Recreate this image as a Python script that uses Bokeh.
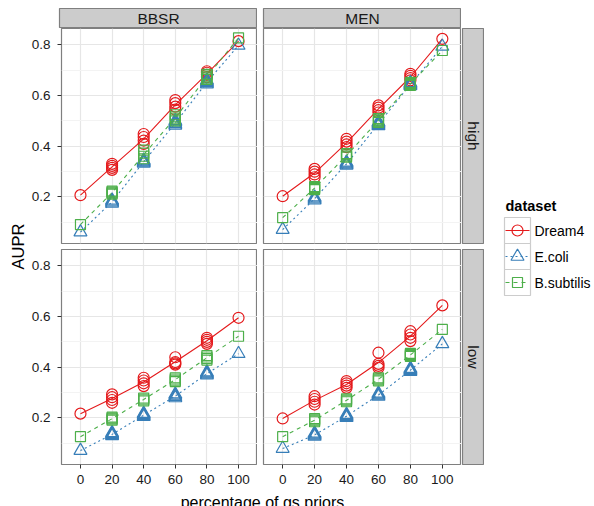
import math
from bokeh.plotting import figure
from bokeh.layouts import row, column
from bokeh.models import Range1d, FixedTicker
from bokeh.core.properties import value
from bokeh.embed import file_html
from bokeh.resources import INLINE

# ---------------- data ----------------
priors = [0, 20, 40, 60, 80, 100]
x_tick_labels = ["0", "20", "40", "60", "80", "100"]
y_ticks = [0.2, 0.4, 0.6, 0.8]
y_tick_labels = ["0.2", "0.4", "0.6", "0.8"]
y_minor = [0.1, 0.3, 0.5, 0.7]
datasets = ["Dream4", "E.coli", "B.subtilis"]
methods = ["BBSR", "MEN"]
levels = ["high", "low"]

# replicate AUPR values for each percentage of gs priors
bbsr_high_dream4 = [[0.206], [0.306, 0.314, 0.322, 0.330], [0.409, 0.422, 0.436, 0.448],
                    [0.544, 0.556, 0.570, 0.582], [0.673, 0.682, 0.690, 0.696], [0.815]]
bbsr_high_ecoli = [[0.060], [0.174, 0.178, 0.182, 0.186], [0.332, 0.336, 0.340, 0.344],
                   [0.482, 0.488, 0.494, 0.500], [0.645, 0.650, 0.655, 0.660], [0.798]]
bbsr_high_bsub = [[0.090], [0.210, 0.214, 0.218, 0.222], [0.350, 0.360, 0.372, 0.384],
                  [0.500, 0.508, 0.516, 0.524], [0.664, 0.670, 0.677, 0.684], [0.828]]

men_high_dream4 = [[0.202], [0.277, 0.288, 0.299, 0.310], [0.396, 0.407, 0.418, 0.429],
                   [0.533, 0.542, 0.552, 0.561], [0.660, 0.669, 0.678, 0.686], [0.824]]
men_high_ecoli = [[0.070], [0.186, 0.190, 0.194, 0.198], [0.324, 0.328, 0.332, 0.336],
                  [0.480, 0.485, 0.490, 0.495], [0.638, 0.642, 0.646, 0.650], [0.794]]
men_high_bsub = [[0.117], [0.228, 0.232, 0.236, 0.240], [0.356, 0.360, 0.365, 0.370],
                 [0.494, 0.499, 0.504, 0.509], [0.640, 0.644, 0.648, 0.652], [0.778]]

bbsr_low_dream4 = [[0.216], [0.259, 0.270, 0.281, 0.292], [0.325, 0.336, 0.347, 0.358],
                   [0.410, 0.415, 0.420, 0.439], [0.492, 0.500, 0.508, 0.516], [0.595]]
bbsr_low_ecoli = [[0.070], [0.128, 0.132, 0.136, 0.140], [0.204, 0.208, 0.212, 0.216],
                  [0.278, 0.283, 0.288, 0.293], [0.368, 0.372, 0.376, 0.380], [0.453]]
bbsr_low_bsub = [[0.125], [0.190, 0.194, 0.198, 0.202], [0.266, 0.270, 0.274, 0.278],
                 [0.343, 0.348, 0.353, 0.358], [0.428, 0.434, 0.440, 0.446], [0.522]]

men_low_dream4 = [[0.197], [0.252, 0.263, 0.274, 0.285], [0.318, 0.327, 0.336, 0.345],
                  [0.397, 0.405, 0.413, 0.457], [0.503, 0.516, 0.529, 0.542], [0.644]]
men_low_ecoli = [[0.078], [0.126, 0.130, 0.134, 0.138], [0.200, 0.204, 0.208, 0.212],
                 [0.284, 0.288, 0.292, 0.296], [0.382, 0.386, 0.390, 0.394], [0.492]]
men_low_bsub = [[0.125], [0.184, 0.188, 0.192, 0.196], [0.263, 0.267, 0.271, 0.275],
                [0.346, 0.350, 0.354, 0.358], [0.442, 0.446, 0.450, 0.454], [0.549]]

panel_data = {
    ("BBSR", "high"): [bbsr_high_dream4, bbsr_high_ecoli, bbsr_high_bsub],
    ("MEN", "high"): [men_high_dream4, men_high_ecoli, men_high_bsub],
    ("BBSR", "low"): [bbsr_low_dream4, bbsr_low_ecoli, bbsr_low_bsub],
    ("MEN", "low"): [men_low_dream4, men_low_ecoli, men_low_bsub],
}

# ---------------- style ----------------
FONT = "Liberation Sans"
colors = ["#E41A1C", "#377EB8", "#4DAF4A"]
markers = ["circle", "triangle", "square"]
sizes = [11, 13, 10]
dashes = ["solid", "2 3", "4 4"]
BORDER = "#7F7F7F"
STRIP = "#CCCCCC"
TXT = "#1A1A1A"
TICK_FS = "13.5px"
STRIP_FS = "15.5px"
TITLE_FS = "16.5px"

XR = (-12, 112)
YR = (0.015, 0.865)

# layout geometry (pixels)
YT_W = 28          # width of the column holding the AUPR title
FRAME_W = 198
FRAME_H = 215
LEFT_AX = 31
GAP = 6
BOTTOM_AX = 26
TOP_PAD = 8
STRIP_H = 20
RSTRIP_W = 23
TITLE_H = 16


def base_fig(**kw):
    p = figure(output_backend="svg", toolbar_location=None, **kw)
    p.background_fill_color = "white"
    p.border_fill_color = "white"
    return p


def make_panel(method, level, show_y, show_x):
    w = FRAME_W + (LEFT_AX if show_y else GAP)
    h = FRAME_H + (BOTTOM_AX if show_x else GAP)
    p = base_fig(width=w, height=h, x_range=Range1d(*XR), y_range=Range1d(*YR),
                 x_axis_location="below" if show_x else None,
                 y_axis_location="left" if show_y else None,
                 min_border_left=LEFT_AX if show_y else GAP, min_border_right=0,
                 min_border_top=0, min_border_bottom=BOTTOM_AX if show_x else GAP)
    p.outline_line_color = BORDER
    p.outline_line_width = 1.2
    p.xgrid.ticker = FixedTicker(ticks=priors)
    p.ygrid.ticker = FixedTicker(ticks=y_ticks, minor_ticks=y_minor)
    p.xgrid.grid_line_color = "#E6E6E6"
    p.ygrid.grid_line_color = "#E6E6E6"
    p.xgrid.grid_line_width = 1.2
    p.ygrid.grid_line_width = 1.2
    p.ygrid.minor_grid_line_color = "#F3F3F3"
    p.ygrid.minor_grid_line_width = 1

    for ax in list(p.xaxis) + list(p.yaxis):
        ax.axis_line_color = None
        ax.major_tick_line_color = "#333333"
        ax.major_tick_in = 0
        ax.major_tick_out = 4
        ax.minor_tick_line_color = None
        ax.major_label_text_font = FONT
        ax.major_label_text_font_size = TICK_FS
        ax.major_label_text_color = TXT
    if show_x:
        p.xaxis.ticker = FixedTicker(ticks=priors)
        p.xaxis.major_label_overrides = dict(zip(priors, x_tick_labels))
        p.xaxis.major_label_standoff = 6
    if show_y:
        p.yaxis.ticker = FixedTicker(ticks=y_ticks)
        p.yaxis.major_label_overrides = dict(zip(y_ticks, y_tick_labels))
        p.yaxis.major_label_standoff = 7

    for i in range(len(datasets)):
        reps = panel_data[(method, level)][i]
        xs = [x for x, r in zip(priors, reps) for _ in r]
        ys = [v for r in reps for v in r]
        means = [sum(r) / len(r) for r in reps]
        p.line(priors, means, line_color=colors[i], line_width=1.1, line_dash=dashes[i])
        p.scatter(xs, ys, marker=markers[i], size=sizes[i], fill_color=None,
                  line_color=colors[i], line_width=1.2)
    return p


def make_strip(label, w, h, mbl, mbr, mbt, mbb, angle):
    s = base_fig(width=w, height=h, x_range=Range1d(0, 1), y_range=Range1d(0, 1),
                 x_axis_location=None, y_axis_location=None,
                 min_border_left=mbl, min_border_right=mbr, min_border_top=mbt,
                 min_border_bottom=mbb)
    s.grid.visible = False
    s.background_fill_color = STRIP
    s.outline_line_color = BORDER
    s.outline_line_width = 1.2
    s.text(x=[0.5], y=[0.5], text=[label], angle=angle, text_align="center",
           text_baseline="middle", text_font=value(FONT), text_font_size=STRIP_FS,
           text_color=TXT)
    return s


# panels
tl = make_panel("BBSR", "high", True, False)
tr = make_panel("MEN", "high", False, False)
bl = make_panel("BBSR", "low", True, True)
br = make_panel("MEN", "low", False, True)

# strips
s_bbsr = make_strip(methods[0], FRAME_W + LEFT_AX, TOP_PAD + STRIP_H, LEFT_AX, 0, TOP_PAD, 0, 0)
s_men = make_strip(methods[1], FRAME_W + GAP, TOP_PAD + STRIP_H, GAP, 0, TOP_PAD, 0, 0)
s_high = make_strip(levels[0], RSTRIP_W, FRAME_H + GAP, 1, 1, 0, GAP, -math.pi / 2)
s_low = make_strip(levels[1], RSTRIP_W, FRAME_H + BOTTOM_AX, 1, 1, 0, BOTTOM_AX, -math.pi / 2)

TOTAL_H = TOP_PAD + STRIP_H + FRAME_H + GAP + FRAME_H + BOTTOM_AX + TITLE_H
grid_w = 2 * FRAME_W + LEFT_AX + GAP
panel_x0 = YT_W + LEFT_AX
panel_cx = panel_x0 + FRAME_W + GAP / 2

# x title
xt_y0 = TOTAL_H - TITLE_H
xt = base_fig(width=grid_w, height=TITLE_H, x_range=Range1d(YT_W, YT_W + grid_w),
              y_range=Range1d(TOTAL_H, xt_y0), x_axis_location=None, y_axis_location=None,
              min_border_left=0, min_border_right=0, min_border_top=0, min_border_bottom=0)
xt.grid.visible = False
xt.outline_line_color = None
xt.text(x=[panel_cx + 2], y=[xt_y0 + 11.5], text=["percentage of gs priors"],
        text_align="center", text_baseline="alphabetic", text_font=value(FONT),
        text_font_size="16px", text_color="black")

# y title
yt = base_fig(width=YT_W, height=TOTAL_H, x_range=Range1d(0, YT_W), y_range=Range1d(TOTAL_H, 0),
              x_axis_location=None, y_axis_location=None,
              min_border_left=0, min_border_right=0, min_border_top=0, min_border_bottom=0)
yt.grid.visible = False
yt.outline_line_color = None
yt.text(x=[17], y=[TOP_PAD + STRIP_H + FRAME_H + GAP / 2], text=["AUPR"], angle=math.pi / 2,
        text_align="center", text_baseline="middle", text_font=value(FONT),
        text_font_size=TITLE_FS, text_color="black")

# legend
LEG_X0 = YT_W + grid_w + RSTRIP_W
LEG_W = 593 - LEG_X0
lg = base_fig(width=LEG_W, height=TOTAL_H, x_range=Range1d(LEG_X0, LEG_X0 + LEG_W),
              y_range=Range1d(TOTAL_H, 0), x_axis_location=None, y_axis_location=None,
              min_border_left=0, min_border_right=0, min_border_top=0, min_border_bottom=0)
lg.grid.visible = False
lg.outline_line_color = None
key_x0, key_w, key_h, key_y0 = 504, 26, 26, 217
lg.text(x=[key_x0 + 1], y=[205], text=["dataset"], text_align="left", text_baseline="middle",
        text_font=value(FONT), text_font_size="14.5px", text_font_style="bold", text_color="black")
for i, ds in enumerate(datasets):
    yc = key_y0 + key_h * i + key_h / 2
    lg.rect(x=[key_x0 + key_w / 2], y=[yc], width=key_w, height=key_h,
            fill_color="white", line_color="#CCCCCC", line_width=1.2)
    lg.segment(x0=[key_x0 + 1], y0=[yc], x1=[key_x0 + key_w - 1], y1=[yc],
               line_color=colors[i], line_width=1.1, line_dash=dashes[i])
    lg.scatter(x=[key_x0 + key_w / 2], y=[yc], marker=markers[i], size=sizes[i],
               fill_color=None, line_color=colors[i], line_width=1.2)
    lg.text(x=[key_x0 + key_w + 4], y=[yc], text=[ds], text_align="left",
            text_baseline="middle", text_font=value(FONT), text_font_size="14px",
            text_color="black")

grid = column(
    row(s_bbsr, s_men),
    row(tl, tr, s_high),
    row(bl, br, s_low),
    xt,
)
layout = row(yt, grid, lg)

open("out.html", "w").write(file_html(layout, INLINE))
